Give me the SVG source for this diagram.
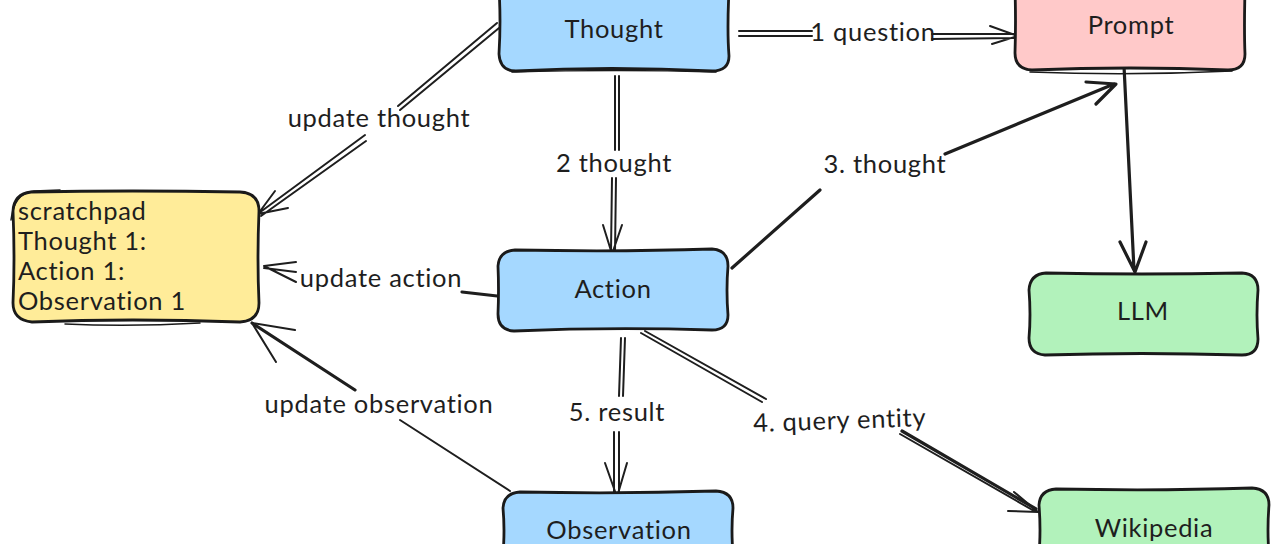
<svg xmlns="http://www.w3.org/2000/svg" width="1280" height="544" viewBox="0 0 1280 544">
<style>
.box{stroke:#1a1a1a;stroke-width:2.8;stroke-linejoin:round}
.b2{fill:none;stroke:#1a1a1a;stroke-width:1.5;stroke-linecap:round}
.blue{fill:#a5d8ff}.red{fill:#ffc9c9}.green{fill:#b2f2bb}.yellow{fill:#ffec99}
text{font-family:"Lato","Noto Sans",sans-serif;font-size:25.5px;fill:#1e1e1e;letter-spacing:.7px}
.m{text-anchor:middle}
.c path{fill:none;stroke:#1e1e1e;stroke-width:2;stroke-linecap:round;stroke-linejoin:round}
.c path.t{stroke-width:3.2}
</style>
<g id="connectors" class="c">
<path d="M739 31L812 31M739 36L812 36M932 34L1014 34M932 39L1014 38M990 26L1018 36L992 44"/>
<path d="M497 23L398 106M499 28L400 110M365 135L259 213M366 141L261 216M275 191L258 214L288 208"/>
<path d="M615 76L615 150M619 76L619 150M612 178L611 252M616 178L615 252M603 225L612 254L622 225"/>
<path class="t" d="M732 268L820 190M945 154L1114 84M1086 82L1116 84L1096 104"/>
<path class="t" d="M1124 66L1134 270M1120 242L1135 272L1146 242"/>
<path d="M296 262L264 266L296 282M264 268L296 272"/>
<path class="t" d="M462 292L506 297"/>
<path class="t" d="M252 323L355 390"/>
<path d="M400 420L510 491M295 330L252 323L276 362"/>
<path d="M621 338L619 396M625 338L623 396M614 432L614 494M619 432L619 494M605 463L617 497L627 463"/>
<path d="M641 333L762 402M645 331L766 399M900 434L1036 512M1014 492L1038 512L1008 511"/>
<path class="t" d="M902 431L1036 509"/>
</g>
<g id="node-thought">
<path class="box blue" d="M499 -10L729 -10Q727 30 729 56Q729 71 712 71Q610 66 516 71Q500 71 499 54Q501 20 499 -10Z"/>
<path class="b2" d="M512 72Q620 69 716 72"/>
<text class="m" x="614" y="38">Thought</text>
</g>
<g id="node-prompt">
<path class="box red" d="M1015 -10L1245 -10Q1244 30 1245 54Q1245 70 1228 70Q1130 66 1032 70Q1015 69 1015 53Q1016 20 1015 -10Z"/>
<path class="b2" d="M1030 72Q1130 76 1232 71"/>
<text class="m" x="1131" y="34">Prompt</text>
</g>
<g id="node-scratchpad">
<path class="box yellow" d="M31 192Q130 190 240 192Q259 193 259 211Q257 260 259 303Q259 321 240 322Q130 318 32 322Q13 320 13 303Q15 260 13 211Q14 194 31 192Z"/>
<path class="b2" d="M11 220Q14 193 34 191L60 190M65 324Q130 327 200 323"/>
<text x="18" y="220">scratchpad</text>
<text x="18" y="250">Thought 1:</text>
<text x="18" y="280">Action 1:</text>
<text x="18" y="310">Observation 1</text>
</g>
<g id="node-action">
<path class="box blue" d="M515 250Q620 252 712 249Q728 250 728 266Q726 290 728 315Q728 330 712 330Q610 327 514 331Q498 330 498 314Q499 290 498 266Q499 251 515 250Z"/>
<text class="m" x="613" y="298">Action</text>
</g>
<g id="node-llm">
<path class="box green" d="M1046 273Q1140 275 1242 273Q1258 274 1258 290Q1256 315 1258 339Q1258 355 1242 355Q1140 352 1045 355Q1029 354 1029 338Q1031 315 1029 290Q1030 274 1046 273Z"/>
<text class="m" x="1143" y="320">LLM</text>
</g>
<g id="node-observation">
<path class="box blue" d="M520 492Q620 494 716 491Q733 492 733 508Q731 530 733 554L503 554Q505 530 503 508Q504 493 520 492Z"/>
<text class="m" x="619" y="539">Observation</text>
</g>
<g id="node-wikipedia">
<path class="box green" d="M1056 489Q1160 491 1252 488Q1269 489 1269 505Q1267 530 1269 554L1039 554Q1041 530 1039 505Q1040 490 1056 489Z"/>
<text class="m" x="1154" y="537">Wikipedia</text>
</g>
<g id="labels">
<text class="m" x="873" y="41">1 question</text>
<text class="m" x="379" y="127">update thought</text>
<text class="m" x="614" y="172">2 thought</text>
<text class="m" x="885" y="173">3. thought</text>
<text class="m" x="381" y="287">update action</text>
<text class="m" x="379" y="413">update observation</text>
<text class="m" x="617" y="421">5. result</text>
<text class="m" x="840" y="429" transform="rotate(-2 840 429)">4. query entity</text>
</g>
</svg>
